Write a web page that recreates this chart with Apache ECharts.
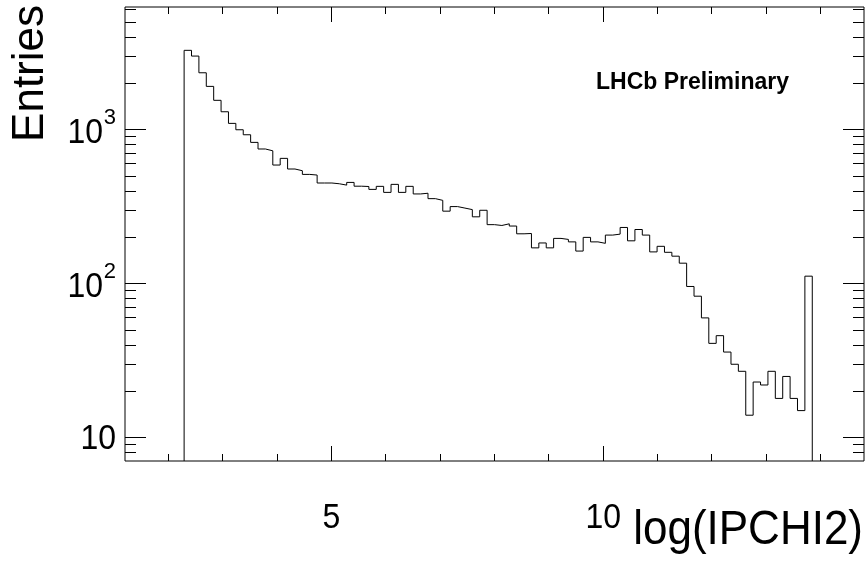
<!DOCTYPE html>
<html>
<head>
<meta charset="utf-8">
<script src="https://cdn.jsdelivr.net/npm/echarts@6/dist/echarts.min.js"></script>
<style>
html,body{margin:0;padding:0;background:#fff;}
#chart{width:866px;height:563px;}
</style>
</head>
<body>
<div id="chart"></div>
<script>
// Histogram definition (100 bins over the axis range; filled bins below)
const xMin = 1.2;
const xMax = 14.8;
const binWidth = 0.136;
const firstFilledBin = 8;
const counts = [
  3280, 3010, 2345, 1913, 1553, 1309, 1100, 1000, 928, 828,
  750, 730, 590, 652, 556, 542, 513, 508, 451, 451,
  446, 437, 455, 430, 428, 410, 429, 392, 442, 392,
  429, 383, 387, 357, 348, 296, 317, 310, 303, 272,
  300, 242, 239, 245, 237, 211, 212, 171, 184, 171,
  197, 194, 187, 163, 200, 187, 183, 207, 210, 232,
  190, 225, 207, 161, 175, 160, 151, 136, 96, 83,
  60, 41, 46, 36, 30, 27, 14, 23, 22, 27,
  18, 25, 18, 15, 112
];
const yMin = 7.06;
const yMax = 6270;

// Axis ticks and labels
const xMajorTicks = [5, 10];
const xMinorTicks = [2, 3, 4, 6, 7, 8, 9, 11, 12, 13, 14];
const xTickLabels = ['5', '10'];
const yMajorTicks = [10, 100, 1000];
const yMinorTicks = [8, 9, 20, 30, 40, 50, 60, 70, 80, 90, 200, 300, 400, 500, 600, 700, 800, 900, 2000, 3000, 4000, 5000, 6000];
const yLabelBase = ['10', '10', '10'];
const yLabelExp = ['', '2', '3'];

const xTitle = 'log(IPCHI2)';
const yTitle = 'Entries';
const tagText = 'LHCb Preliminary';

const FONT = '"Liberation Sans", Arial, Helvetica, sans-serif';

// Build step outline: rises from the frame bottom, falls back at the end
const histData = [[xMin + firstFilledBin * binWidth, yMin]];
counts.forEach((c, i) => histData.push([xMin + (firstFilledBin + i) * binWidth, c]));
histData.push([xMin + (firstFilledBin + counts.length) * binWidth, yMin]);

const chart = echarts.init(document.getElementById('chart'), null, {renderer: 'canvas'});

function crisp(v) { return Math.round(v - 0.5) + 0.5; }

function xTickSeries(values, len) {
  return {
    type: 'custom', coordinateSystem: 'cartesian2d', silent: true, clip: false,
    animation: false, z: 5,
    data: values.map(v => [v, yMin]),
    renderItem: (params, api) => {
      const v = api.value(0);
      const b = api.coord([v, yMin]);
      const t = api.coord([v, yMax]);
      const x = crisp(b[0]);
      return {type: 'group', children: [
        {type: 'line', shape: {x1: x, y1: b[1], x2: x, y2: b[1] - len}, style: {stroke: '#000', lineWidth: 1}},
        {type: 'line', shape: {x1: x, y1: t[1], x2: x, y2: t[1] + len}, style: {stroke: '#000', lineWidth: 1}}
      ]};
    }
  };
}
function yTickSeries(values, len) {
  return {
    type: 'custom', coordinateSystem: 'cartesian2d', silent: true, clip: false,
    animation: false, z: 5,
    data: values.map(v => [xMin, v]),
    renderItem: (params, api) => {
      const v = api.value(1);
      const l = api.coord([xMin, v]);
      const r = api.coord([xMax, v]);
      const y = crisp(l[1]);
      return {type: 'group', children: [
        {type: 'line', shape: {x1: l[0], y1: y, x2: l[0] + len, y2: y}, style: {stroke: '#000', lineWidth: 1}},
        {type: 'line', shape: {x1: r[0], y1: y, x2: r[0] - len, y2: y}, style: {stroke: '#000', lineWidth: 1}}
      ]};
    }
  };
}

const xLabelSeries = {
  type: 'custom', coordinateSystem: 'cartesian2d', silent: true, clip: false,
  animation: false, z: 5,
  data: xMajorTicks.map(v => [v, yMin]),
  renderItem: (params, api) => {
    const p = api.coord([api.value(0), yMin]);
    return {type: 'text', x: p[0], y: p[1] + 57, scaleY: 1.12,
      style: {text: xTickLabels[params.dataIndex], fill: '#000', font: '32px ' + FONT, align: 'center', verticalAlign: 'middle'}};
  }
};

const yLabelSeries = {
  type: 'custom', coordinateSystem: 'cartesian2d', silent: true, clip: false,
  animation: false, z: 5,
  data: yMajorTicks.map(v => [xMin, v]),
  renderItem: (params, api) => {
    const p = api.coord([xMin, api.value(1)]);
    const i = params.dataIndex;
    const right = p[0] - 9;
    const exp = yLabelExp[i];
    const children = [];
    if (exp) {
      children.push({type: 'text', x: right, y: p[1] - 12,
        style: {text: exp, fill: '#000', font: '22px ' + FONT, align: 'right', verticalAlign: 'middle'}});
      children.push({type: 'text', x: right - 13, y: p[1] + 4, scaleY: 1.1,
        style: {text: yLabelBase[i], fill: '#000', font: '32px ' + FONT, align: 'right', verticalAlign: 'middle'}});
    } else {
      children.push({type: 'text', x: right, y: p[1] + 2, scaleY: 1.1,
        style: {text: yLabelBase[i], fill: '#000', font: '32px ' + FONT, align: 'right', verticalAlign: 'middle'}});
    }
    return {type: 'group', children};
  }
};

chart.setOption({
  animation: false,
  backgroundColor: '#fff',
  grid: {left: 125, right: 2, top: 7, bottom: 102, show: true, borderColor: '#000', borderWidth: 1, backgroundColor: 'transparent', containLabel: false},
  xAxis: {type: 'value', min: xMin, max: xMax, axisLine: {show: false}, axisTick: {show: false}, axisLabel: {show: false}, splitLine: {show: false}},
  yAxis: {type: 'log', min: yMin, max: yMax, logBase: 10, axisLine: {show: false}, axisTick: {show: false}, axisLabel: {show: false}, splitLine: {show: false}},
  graphic: [
    {type: 'text', x: 863, y: 531, scaleY: 1.1,
      style: {text: xTitle, fill: '#000', font: '44px ' + FONT, align: 'right', verticalAlign: 'middle'}},
    {type: 'text', x: 31, y: 5, rotation: Math.PI / 2,
      style: {text: yTitle, fill: '#000', font: '44px ' + FONT, align: 'right', verticalAlign: 'middle'}},
    {type: 'text', x: 596, y: 83, style: {text: tagText, fill: '#000', font: 'bold 23px ' + FONT, align: 'left', verticalAlign: 'middle'}}
  ],
  series: [
    {
      type: 'line', data: histData, step: 'end', showSymbol: false, symbol: 'none',
      lineStyle: {color: '#000', width: 1}, clip: true, z: 4, silent: true
    },
    xTickSeries(xMajorTicks, 15),
    xTickSeries(xMinorTicks, 7),
    yTickSeries(yMajorTicks, 21),
    yTickSeries(yMinorTicks, 11),
    xLabelSeries,
    yLabelSeries
  ]
});
</script>
</body>
</html>
